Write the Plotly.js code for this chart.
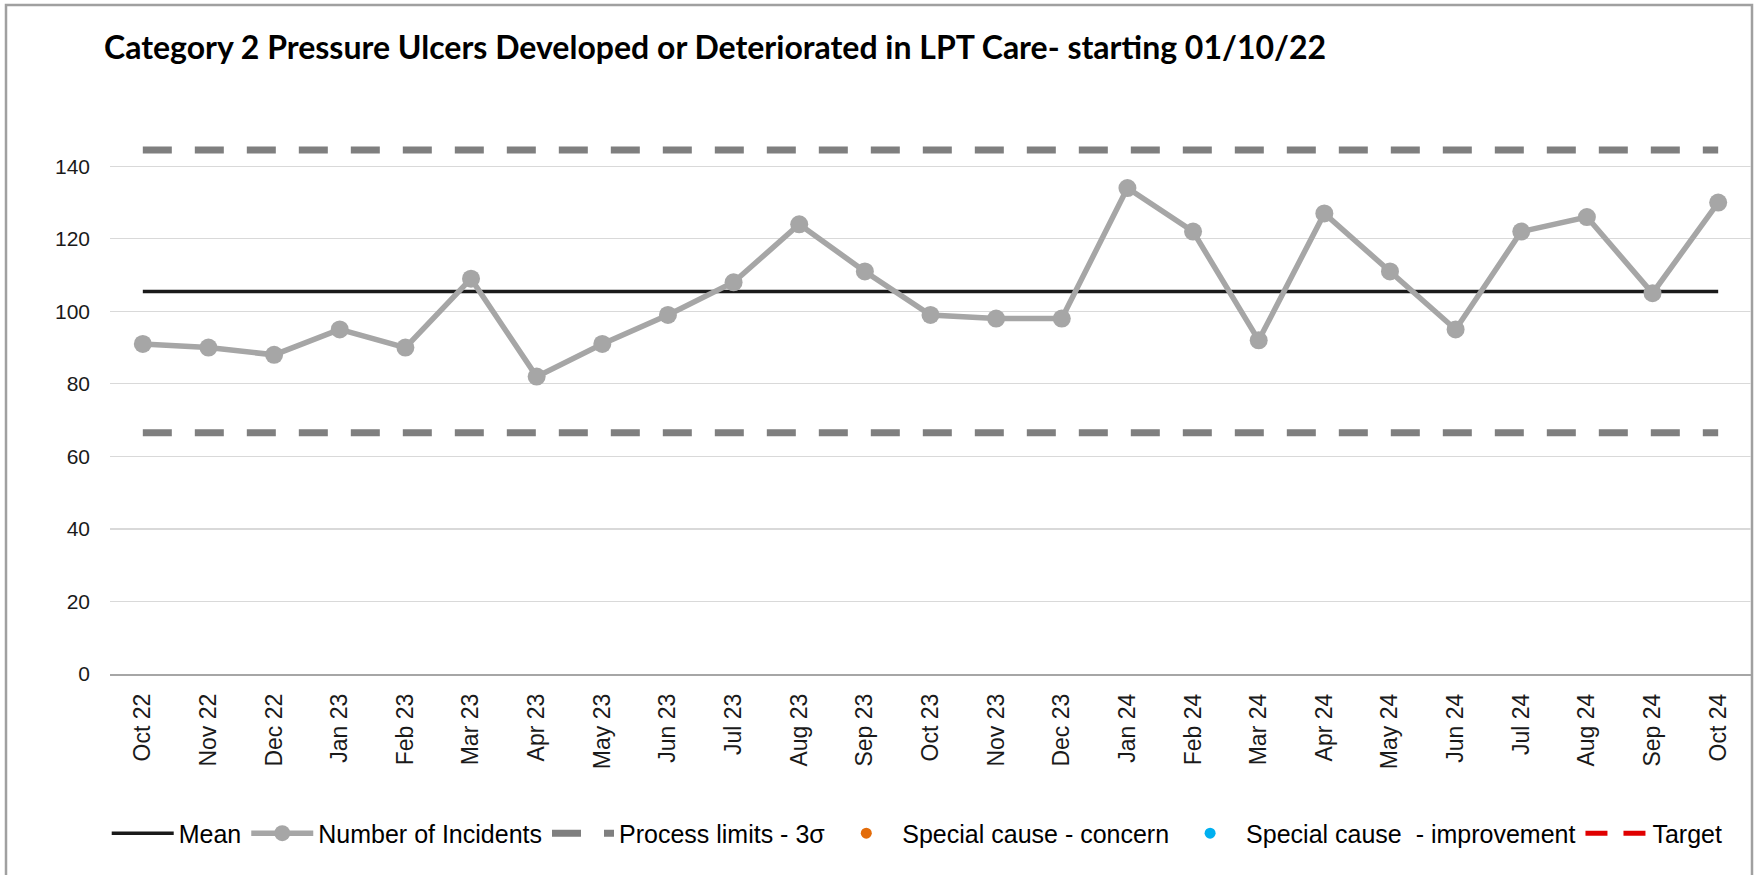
<!DOCTYPE html>
<html>
<head>
<meta charset="utf-8">
<script src="https://cdn.plot.ly/plotly-3.0.1.min.js"></script>
<style>
  html, body { margin: 0; padding: 0; background: #fff; }
  #chart { width: 1761px; height: 875px; }
</style>
</head>
<body>
<div id="chart"></div>
<script>
// months on the x axis
const months = ["Oct 22", "Nov 22", "Dec 22", "Jan 23", "Feb 23", "Mar 23", "Apr 23", "May 23",
  "Jun 23", "Jul 23", "Aug 23", "Sep 23", "Oct 23", "Nov 23", "Dec 23", "Jan 24", "Feb 24",
  "Mar 24", "Apr 24", "May 24", "Jun 24", "Jul 24", "Aug 24", "Sep 24", "Oct 24"];

// number of incidents per month
const incidents = [91, 90, 88, 95, 90, 109, 82, 91, 99, 108, 124, 111, 99, 98, 98,
  134, 122, 92, 127, 111, 95, 122, 126, 105, 130];

// SPC lines
const meanValue = 105.5;
const upperLimit = 144.5;
const lowerLimit = 66.5;

// no special cause points / target in this period
const concern = months.map(() => null);
const improvement = months.map(() => null);
const target = months.map(() => null);

const textFont = "Liberation Sans, Arial, sans-serif";

const traces = [
  {
    x: months, y: months.map(() => meanValue),
    name: "Mean", mode: "lines", type: "scatter",
    line: { color: "#1a1a1a", width: 3.5 }
  },
  {
    x: months, y: incidents,
    name: "Number of Incidents", mode: "lines+markers", type: "scatter",
    line: { color: "#a6a6a6", width: 5.5 },
    marker: { color: "#a6a6a6", size: 18 }
  },
  {
    x: months, y: months.map(() => upperLimit),
    name: "Process limits - 3σ", mode: "lines", type: "scatter",
    legendgroup: "limits",
    line: { color: "#7f7f7f", width: 7, dash: "29px,23px" }
  },
  {
    x: months, y: months.map(() => lowerLimit),
    name: "Process limits - 3σ", mode: "lines", type: "scatter",
    legendgroup: "limits", showlegend: false,
    line: { color: "#7f7f7f", width: 7, dash: "29px,23px" }
  },
  {
    x: months, y: concern,
    name: "Special cause - concern", mode: "markers", type: "scatter",
    marker: { color: "#e36c0a", size: 11 }
  },
  {
    x: months, y: improvement,
    name: "Special cause  - improvement", mode: "markers", type: "scatter",
    marker: { color: "#00b0f0", size: 11 }
  },
  {
    x: months, y: target,
    name: "Target", mode: "lines", type: "scatter",
    line: { color: "#e00000", width: 5, dash: "22px,16px" }
  }
];

const layout = {
  width: 1761,
  height: 875,
  paper_bgcolor: "#ffffff",
  plot_bgcolor: "#ffffff",
  margin: { l: 110, r: 10, t: 130, b: 201 },
  title: {
    text: "Category 2 Pressure Ulcers Developed or Deteriorated in LPT Care- starting 01/10/22",
    font: { family: "Lato, Carlito, Calibri, sans-serif", size: 32, color: "#000000", weight: "bold" },
    x: 104 / 1761, xanchor: "left",
    y: 1 - 48 / 875, yanchor: "middle"
  },
  xaxis: {
    type: "category",
    range: [-0.5, months.length - 0.5],
    tickangle: -90,
    tickfont: { family: textFont, size: 23, color: "#1a1a1a" },
    showgrid: false,
    showline: true, linecolor: "#a6a6a6", linewidth: 1.5,
    ticks: "", ticklabelstandoff: 9,
    fixedrange: true
  },
  yaxis: {
    range: [0, 150],
    tickvals: [0, 20, 40, 60, 80, 100, 120, 140],
    tickfont: { family: textFont, size: 21, color: "#1a1a1a" },
    gridcolor: "#d9d9d9", gridwidth: 1.2,
    zeroline: false, showline: false,
    ticks: "", ticklabelstandoff: 19,
    fixedrange: true
  },
  showlegend: true,
  legend: {
    orientation: "h",
    x: -0.002, xanchor: "left",
    y: -0.293, yanchor: "middle",
    font: { family: textFont, size: 25, color: "#000000" },
    itemwidth: 62,
    tracegroupgap: 0,
    bgcolor: "rgba(0,0,0,0)"
  },
  shapes: [
    // outer chart border
    {
      type: "rect", xref: "paper", yref: "paper",
      x0: -104 / 1641, x1: 1 + 1 / 1641,
      y0: -210 / 544, y1: 1 + 125 / 544,
      line: { color: "#a0a0a0", width: 2.5 },
      fillcolor: "rgba(0,0,0,0)", layer: "below"
    }
  ]
};

Plotly.newPlot("chart", traces, layout, { displayModeBar: false, staticPlot: true });
</script>
</body>
</html>
